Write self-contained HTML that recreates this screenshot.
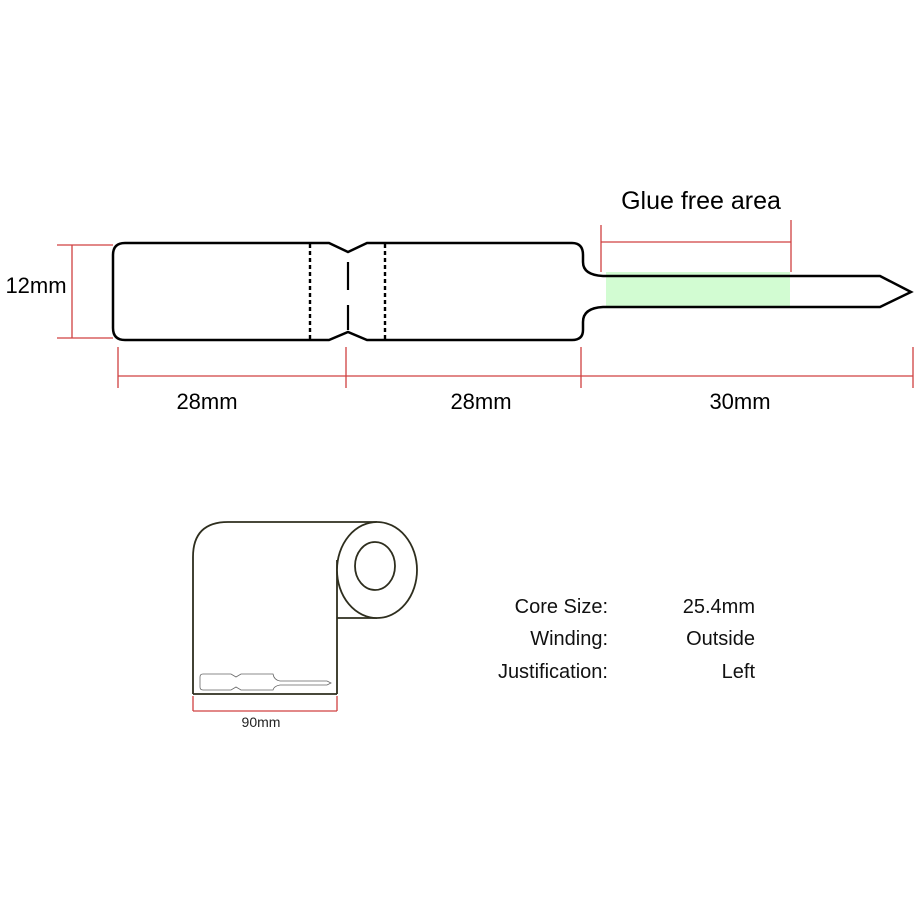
<!DOCTYPE html>
<html><head><style>body{margin:0;background:#fff}svg{display:block}text{font-family:"Liberation Sans",sans-serif}</style></head><body>
<svg width="915" height="915" viewBox="0 0 915 915" xmlns="http://www.w3.org/2000/svg">
<rect x="606" y="272" width="184" height="34" fill="#d2fcd2"/>
<path d="M125,243 L329,243 L348,252 L367,243 L572,243 Q583,243 583,255 L583,262 Q583,275 603,276 L880,276 L911,292 L880,307 L603,307 Q583,308 583,322 L583,330 Q583,340 572,340 L367,340 L348,332 L329,340 L125,340 Q113,340 113,328 L113,255 Q113,243 125,243 Z" fill="none" stroke="#000" stroke-width="2.5"/>
<line x1="310" y1="244" x2="310" y2="340" stroke="#000" stroke-width="2.4" stroke-dasharray="4,3"/>
<line x1="385" y1="244" x2="385" y2="340" stroke="#000" stroke-width="2.4" stroke-dasharray="4,3"/>
<line x1="348" y1="262" x2="348" y2="290" stroke="#000" stroke-width="2.2"/>
<line x1="348" y1="305" x2="348" y2="330" stroke="#000" stroke-width="2.2"/>
<g stroke="#d04040" stroke-width="1.3" fill="none">
<line x1="72" y1="245" x2="72" y2="338"/><line x1="57" y1="245" x2="113" y2="245"/><line x1="57" y1="338" x2="113" y2="338"/>
<line x1="118" y1="376" x2="913" y2="376"/>
<line x1="118" y1="347" x2="118" y2="388"/><line x1="346" y1="347" x2="346" y2="388"/><line x1="581" y1="347" x2="581" y2="388"/><line x1="913" y1="347" x2="913" y2="388"/>
<line x1="601" y1="242" x2="791" y2="242"/><line x1="601" y1="225" x2="601" y2="272"/><line x1="791" y1="220" x2="791" y2="272"/>
<line x1="193" y1="711" x2="337" y2="711"/><line x1="193" y1="696" x2="193" y2="711"/><line x1="337" y1="696" x2="337" y2="711"/>
</g>
<g font-size="22" fill="#000" text-anchor="middle">
<text x="36" y="293">12mm</text>
<text x="207" y="409">28mm</text>
<text x="481" y="409">28mm</text>
<text x="740" y="409">30mm</text>
<text x="701" y="209" font-size="25">Glue free area</text>
</g>
<g fill="none" stroke="#2e2e1e" stroke-width="1.8">
<path d="M193,694 L193,557 Q193,522 228,522 L377,522"/>
<path d="M337,618 L377,618"/>
<line x1="337" y1="560" x2="337" y2="694"/>
<line x1="193" y1="694" x2="337" y2="694"/>
<ellipse cx="377" cy="570" rx="40" ry="48" fill="#fff"/>
<ellipse cx="375" cy="566" rx="20" ry="24"/>
</g>
<g fill="none" stroke="#666" stroke-width="0.8">
<path d="M203,674 L231,674 L236,677 L241,674 L273,674 Q274,680 280,681 L327,681 L331,683 L327,685 L280,685 Q274,686 273,690 L241,690 L236,687 L231,690 L203,690 Q200,690 200,687 L200,677 Q200,674 203,674 Z"/>
</g>
<text x="261" y="727" font-size="14" text-anchor="middle" fill="#222">90mm</text>
<g font-size="20" fill="#111">
<text x="608" y="613" text-anchor="end">Core Size:</text>
<text x="608" y="645" text-anchor="end">Winding:</text>
<text x="608" y="678" text-anchor="end">Justification:</text>
<text x="755" y="613" text-anchor="end">25.4mm</text>
<text x="755" y="645" text-anchor="end">Outside</text>
<text x="755" y="678" text-anchor="end">Left</text>
</g>
</svg>
</body></html>
